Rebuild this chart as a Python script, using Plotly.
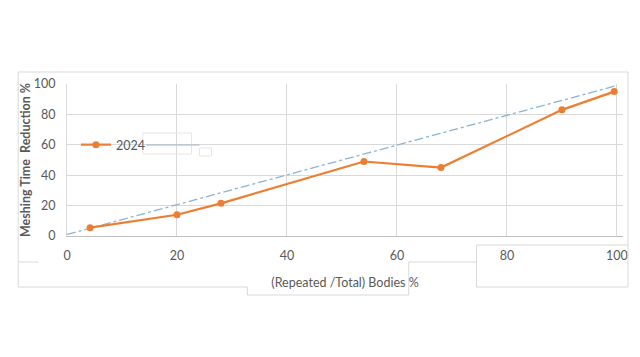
import plotly.graph_objects as go

x_vals = [4.2, 20, 28, 54, 68, 90, 99.5]
y_vals = [5.5, 14, 21.5, 49, 45, 83, 95]
trend_x = [0, 100]
trend_y = [1, 99]
x_ticks = [0, 20, 40, 60, 80, 100]
y_ticks = [0, 20, 40, 60, 80, 100]

W, H = 640, 357
L, R, T, B = 67, 15, 84, 121
PW, PH = W - L - R, H - T - B

def px(v):
    return (v - L) / PW

def py(v):
    return (H - B - v) / PH

fig = go.Figure()
fig.add_trace(go.Scatter(x=trend_x, y=trend_y, mode="lines", name="",
                         line=dict(color="#8db3d3", width=1.3, dash="dashdot"),
                         showlegend=False))
fig.add_trace(go.Scatter(x=x_vals, y=y_vals, mode="lines+markers", name="2024",
                         line=dict(color="#ED7D31", width=2.2),
                         marker=dict(color="#ED7D31", size=7)))

grey = "#595959"
shapes = []
def line(x0, y0, x1, y1, color="#d9d9d9", w=1):
    shapes.append(dict(type="line", xref="paper", yref="paper",
                       x0=px(x0), y0=py(y0), x1=px(x1), y1=py(y1),
                       line=dict(color=color, width=w)))

# outer chart frame artifacts
line(18, 72, 630, 72)
line(18, 72, 18, 287)
line(18, 262, 38, 262)
line(18, 287, 248, 287)
line(248, 287, 248, 295)
line(248, 295, 410, 295)
line(410, 295, 410, 262)
line(410, 262, 478, 262)
line(478, 245, 478, 287)
line(478, 287, 630, 287)
line(630, 72, 630, 287)
line(478, 245, 630, 245)
# legend artifacts
shapes.append(dict(type="rect", xref="paper", yref="paper",
                   x0=px(143), y0=py(154), x1=px(192), y1=py(133),
                   fillcolor="rgba(255,255,255,0)", line=dict(color="#e6e6e6", width=1)))
line(147, 145, 200, 145, color="#a6b4c2", w=1)
shapes.append(dict(type="rect", xref="paper", yref="paper",
                   x0=px(200), y0=py(156), x1=px(212), y1=py(148),
                   fillcolor="white", line=dict(color="#e6e6e6", width=1)))

fig.update_layout(
    width=W, height=H,
    margin=dict(l=L, r=R, t=T, b=B),
    paper_bgcolor="white", plot_bgcolor="white",
    font=dict(family="Lato, Open Sans, sans-serif", color=grey, size=12),
    showlegend=True,
    legend=dict(x=px(76), y=py(145), xanchor="left", yanchor="middle",
                bgcolor="rgba(0,0,0,0)", font=dict(size=12.5, color=grey),
                itemwidth=30),
    shapes=shapes,
    xaxis=dict(range=[0, 101.1], tickvals=x_ticks, showgrid=True,
               gridcolor="#d9d9d9", zeroline=False, showline=True,
               linecolor="#bfbfbf", ticks="", ticklabelstandoff=8,
               tickfont=dict(size=12.5, color=grey),
               title=dict(text="(Repeated /Total) Bodies %", standoff=16,
                          font=dict(size=12.5, color=grey))),
    yaxis=dict(range=[0, 100], tickvals=y_ticks, showgrid=True,
               gridcolor="#d9d9d9", zeroline=False, showline=True,
               linecolor="#d9d9d9", ticks="", ticklabelstandoff=8,
               tickfont=dict(size=12.5, color=grey),
               title=dict(text="<b>Meshing Time&nbsp; Reduction %</b>", standoff=0,
                          font=dict(size=12.5, color=grey))),
)
fig.write_html("out.html")
